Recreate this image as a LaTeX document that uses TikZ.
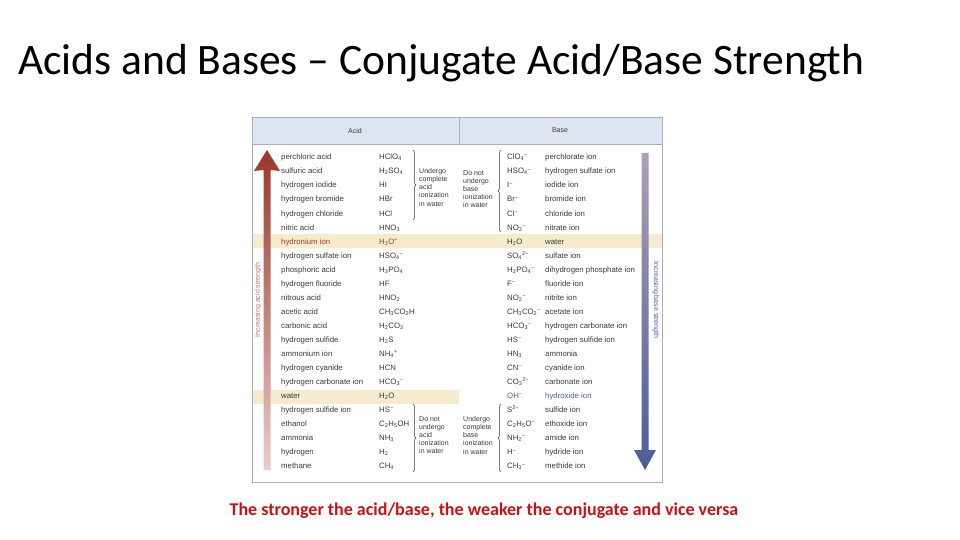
\documentclass[tikz,border=0pt]{standalone}
\usepackage{fontspec}
\setmainfont{Carlito}
\newfontfamily\tf{Liberation Sans}
\usetikzlibrary{decorations.pathreplacing}
\newcommand\s[1]{\textsubscript{#1}}
\newcommand\su[1]{\textsuperscript{#1}}
\definecolor{txt}{HTML}{3A3A3A}
\definecolor{hdr}{HTML}{DCE5F1}
\definecolor{hl}{HTML}{F6EBCF}
\definecolor{frame}{HTML}{A8B0BE}
\definecolor{red1}{HTML}{A33A2A}
\definecolor{blu1}{HTML}{4A5C9A}
\definecolor{foot}{HTML}{CC1111}
\begin{document}
\begin{tikzpicture}[x=1pt,y=-1pt,
  cell/.style={anchor=base west,inner sep=0pt,font=\tf\fontsize{7.8}{8}\selectfont,text=txt},
  note/.style={anchor=north west,inner sep=0pt,align=left,font=\tf\fontsize{7}{8.2}\selectfont,text=txt},
  br/.style={draw=txt,line width=0.5pt,decorate,decoration={brace,amplitude=3pt}},
  brm/.style={draw=txt,line width=0.5pt,decorate,decoration={brace,amplitude=3pt,mirror}}]
\useasboundingbox (0,0) rectangle (960,540);
\fill[white] (0,0) rectangle (960,540);
\node[anchor=base west,inner sep=0pt,font=\fontsize{43.5}{48}\selectfont] (title) at (18,75) {Acids and Bases – Conjugate Acid/Base Strength};
% table
\fill[hdr] (252,117) rectangle (662,144);
\fill[hl] (252,234) rectangle (459,248);
\fill[hl] (252,389.5) rectangle (459,403.5);
\fill[hl] (459,234) rectangle (662,248);
\draw[frame,line width=0.6pt] (252,117) rectangle (662,482);
\draw[frame,line width=0.6pt] (252,144) -- (662,144);
\draw[frame,line width=0.6pt] (459,117) -- (459,144);
\node[font=\tf\fontsize{7}{8}\selectfont,text=txt] (hacid) at (355,130.5) {Acid};
\node[font=\tf\fontsize{7}{8}\selectfont,text=txt] (hbase) at (560,130.5) {Base};
% arrows
\shade[top color=red1!95!black,bottom color=red1!25] (263.5,170) -- (254,171) -- (267,150) -- (280,171) -- (270.5,170) -- (270.5,470) -- (263.5,470) -- cycle;
\shade[top color=red!40!blue!25!gray!60,bottom color=blu1] (641.5,153) -- (648.5,153) -- (648.5,450) -- (656,450) -- (645,470) -- (634,450) -- (641.5,450) -- cycle;
\node[rotate=90,font=\tf\fontsize{7}{8}\selectfont,text=red1!70] (la) at (258,300) {Increasing acid strength};
\node[rotate=-90,font=\tf\fontsize{7}{8}\selectfont,text=blu1] (lb) at (656,300) {Increasing base strength};
% acids
\foreach \n/\f [count=\i from 0] in {perchloric acid/HClO\s4,sulfuric acid/H\s2SO\s4,hydrogen iodide/HI,hydrogen bromide/HBr,hydrogen chloride/HCl,nitric acid/HNO\s3,{\color{red1}hydronium ion}/{\color{red1}H\s3O\su+},hydrogen sulfate ion/HSO\s4\su{−},phosphoric acid/H\s3PO\s4,hydrogen fluoride/HF,nitrous acid/HNO\s2,acetic acid/CH\s3CO\s2H,carbonic acid/H\s2CO\s3,hydrogen sulfide/H\s2S,ammonium ion/NH\s4\su+,hydrogen cyanide/HCN,hydrogen carbonate ion/HCO\s3\su{−},water/H\s2O,hydrogen sulfide ion/HS\su{−},ethanol/C\s2H\s5OH,ammonia/NH\s3,hydrogen/H\s2,methane/CH\s4}{
  \node[cell] (an\i) at (281,159.8+14.05*\i) {\n};
  \node[cell] (af\i) at (379,159.8+14.05*\i) {\f};
}
% bases
\foreach \f/\n [count=\i from 0] in {ClO\s4\su{−}/perchlorate ion,HSO\s4\su{−}/hydrogen sulfate ion,I\su{−}/iodide ion,Br\su{−}/bromide ion,Cl\su{−}/chloride ion,NO\s3\su{−}/nitrate ion,H\s2O/water,SO\s4\su{2−}/sulfate ion,H\s2PO\s4\su{−}/dihydrogen phosphate ion,F\su{−}/fluoride ion,NO\s2\su{−}/nitrite ion,CH\s3CO\s2\su{−}/acetate ion,HCO\s3\su{−}/hydrogen carbonate ion,HS\su{−}/hydrogen sulfide ion,HN\s3/ammonia,CN\su{−}/cyanide ion,CO\s3\su{2−}/carbonate ion,{\color{blu1}OH\su{−}}/{\color{blu1}hydroxide ion},S\su{2−}/sulfide ion,C\s2H\s5O\su{−}/ethoxide ion,NH\s2\su{−}/amide ion,H\su{−}/hydride ion,CH\s3\su{−}/methide ion}{
  \node[cell] (bf\i) at (507,159.8+14.05*\i) {\f};
  \node[cell] (bn\i) at (545,159.8+14.05*\i) {\n};
}
% braces and notes
\coordinate (a1t) at (413,150); \coordinate (a1b) at (413,220);
\draw[br] (a1t) -- (a1b);
\node[note] (n1) at (419,168) {Undergo\\complete\\acid\\ionization\\in water};
\coordinate (a2t) at (413,404); \coordinate (a2b) at (413,472);
\draw[br] (a2t) -- (a2b);
\node[note] (n2) at (419,416) {Do not\\undergo\\acid\\ionization\\in water};
\coordinate (b1t) at (501,150); \coordinate (b1b) at (501,232);
\draw[brm] (b1t) -- (b1b);
\node[note] (n3) at (463,170) {Do not\\undergo\\base\\ionization\\in water};
\coordinate (b2t) at (501,404); \coordinate (b2b) at (501,472);
\draw[brm] (b2t) -- (b2b);
\node[note] (n4) at (463,416) {Undergo\\complete\\base\\ionization\\in water};
\node[font=\bfseries\fontsize{18}{20}\selectfont,text=foot] (foot) at (484,510.5) {The stronger the acid/base, the weaker the conjugate and vice versa};
\end{tikzpicture}
\end{document}
